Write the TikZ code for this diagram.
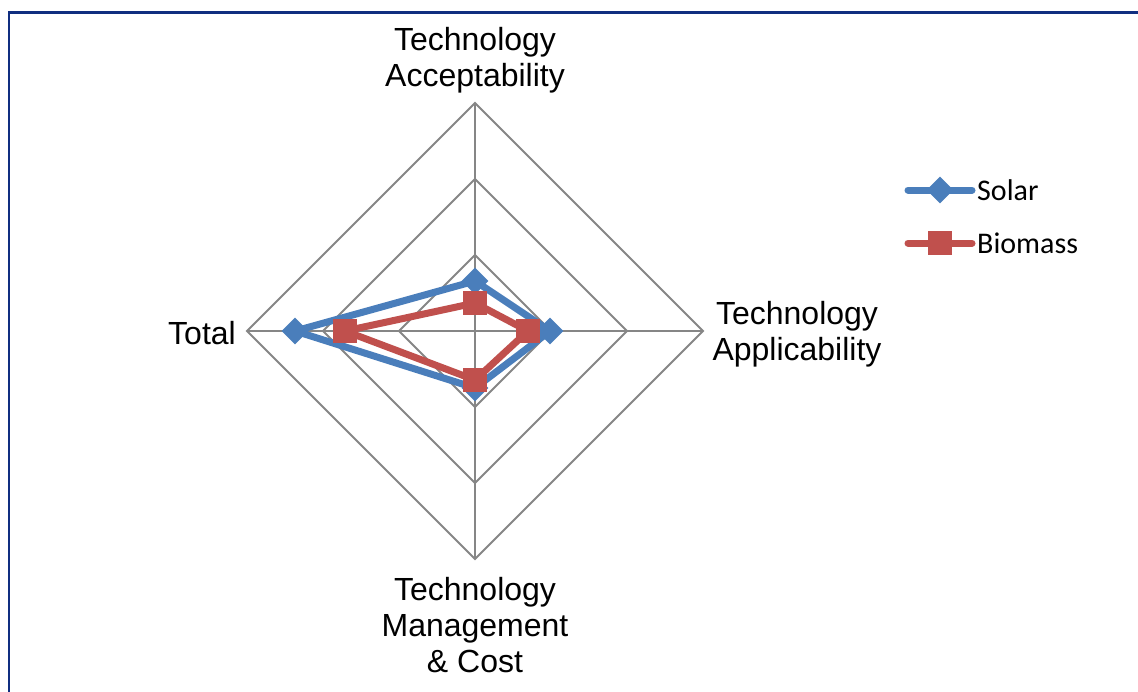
\documentclass[tikz,border=0pt]{standalone}
\usepackage{fontspec}
\setmainfont{Liberation Sans}
\newfontfamily\legfont{Carlito}
\usetikzlibrary{shapes.geometric}
\definecolor{solarc}{RGB}{74,126,187}
\definecolor{biomc}{RGB}{192,80,77}
\definecolor{gridc}{RGB}{134,134,134}
\definecolor{framec}{RGB}{16,46,128}
\tikzset{
  gridline/.style={draw=gridc, line width=2pt},
  axlabel/.style={align=center, font=\fontsize{32}{36}\selectfont, inner sep=0pt},
  leglabel/.style={anchor=west, font=\legfont\fontsize{30}{34}\selectfont, inner sep=0pt},
  solarline/.style={draw=solarc, line width=7pt, line join=round, line cap=round},
  biomline/.style={draw=biomc, line width=7pt, line join=round, line cap=round},
  solarmark/.style={diamond, fill=solarc, minimum size=27pt, inner sep=0pt},
  biommark/.style={rectangle, fill=biomc, minimum size=24pt, inner sep=0pt},
}
\begin{document}
\begin{tikzpicture}[x=1pt,y=-1pt]
\useasboundingbox (0,0) rectangle (1138,691);
% frame
\draw[framec, line width=2.5pt] (9,700) -- (9,12.5) -- (1150,12.5);
% grid
\coordinate (C) at (475,331);
\foreach \r in {76,152,228} {
  \draw[gridline] (475,331-\r) -- (475+\r,331) -- (475,331+\r) -- (475-\r,331) -- cycle;
}
\coordinate (T) at (475,103);
\coordinate (R) at (703,331);
\coordinate (B) at (475,559);
\coordinate (L) at (247,331);
\draw[gridline] (C) -- (T);
\draw[gridline] (C) -- (R);
\draw[gridline] (C) -- (B);
\draw[gridline] (C) -- (L);
% labels
\node[axlabel] (lt) at (475,60) {Technology\\Acceptability};
\node[axlabel] (lr) at (797,334) {Technology\\Applicability};
\node[axlabel] (lb) at (475,625) {Technology\\Management\\\& Cost};
\node[axlabel] (ll) at (202,333) {Total};
% solar
\coordinate (s1) at (475,281);
\coordinate (s2) at (550,331);
\coordinate (s3) at (475,388);
\coordinate (s4) at (295,331);
\draw[solarline] (s1) -- (s2) -- (s3) -- (s4) -- cycle;
\node[solarmark] (ms1) at (s1) {};
\node[solarmark] (ms2) at (s2) {};
\node[solarmark] (ms3) at (s3) {};
\node[solarmark] (ms4) at (s4) {};
% biomass
\coordinate (b1) at (475,303);
\coordinate (b2) at (528,331);
\coordinate (b3) at (475,380);
\coordinate (b4) at (345,331);
\draw[biomline] (b1) -- (b2) -- (b3) -- (b4) -- cycle;
\node[biommark] (mb1) at (b1) {};
\node[biommark] (mb2) at (b2) {};
\node[biommark] (mb3) at (b3) {};
\node[biommark] (mb4) at (b4) {};
% legend
\coordinate (sl1) at (908,190);
\coordinate (sl2) at (972,190);
\draw[solarline] (sl1) -- (sl2);
\node[solarmark] (lgs) at (940,190) {};
\node[leglabel] (lgst) at (977,190) {Solar};
\coordinate (bl1) at (908,243);
\coordinate (bl2) at (972,243);
\draw[biomline] (bl1) -- (bl2);
\node[biommark] (lgb) at (940,243) {};
\node[leglabel] (lgbt) at (977,243) {Biomass};
\end{tikzpicture}
\end{document}
